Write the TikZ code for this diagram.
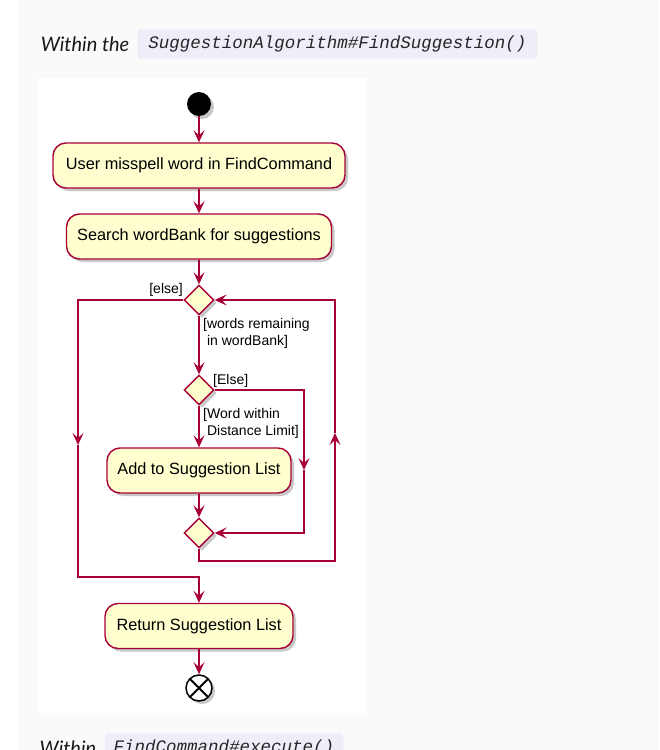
\documentclass[tikz,border=0pt]{standalone}
\usepackage{fontspec}
\setmainfont{Liberation Sans}
\newfontfamily\headfont{Lato}
\newfontfamily\codefont{Liberation Mono}
\usetikzlibrary{arrows.meta,positioning,shapes.geometric,shadows}
\definecolor{umlred}{RGB}{168,0,54}
\definecolor{umlfill}{RGB}{254,254,206}
\definecolor{pagegray}{RGB}{250,250,251}
\definecolor{codebg}{RGB}{238,238,248}
\definecolor{codeline}{RGB}{226,226,240}

\begin{document}
\begin{tikzpicture}[x=1pt,y=-1pt,
    umlshadow/.style={drop shadow={shadow xshift=3pt,shadow yshift=-3pt,opacity=0.3,fill=black!70}},
    act/.style={rectangle,rounded corners=13pt,draw=umlred,line width=1.4pt,fill=umlfill,
      minimum height=45pt,inner sep=0pt,font=\fontsize{16.3}{19}\selectfont,umlshadow},
    branch/.style={diamond,aspect=1,draw=umlred,line width=1.4pt,fill=umlfill,
      minimum size=30pt,inner sep=0pt,umlshadow},
    flow/.style={umlred,line width=1.3pt},
    tip/.style={-{Stealth[length=12pt,width=11pt,inset=5pt]}},
    guard/.style={font=\fontsize{14}{17}\selectfont,align=left,inner sep=0pt},
    codebox/.style={rounded corners=3pt,fill=codebg,draw=codeline,inner sep=0pt,
      font=\codefont\itshape\fontsize{17.5}{20}\selectfont,text=black!85},
    headtext/.style={font=\headfont\itshape\fontsize{20}{24}\selectfont,text=black!90}]
  \useasboundingbox (0,0) rectangle (659,750);
  \clip (0,0) rectangle (659,750);
  \fill[white] (0,0) rectangle (659,750);
  \fill[pagegray] (17,0) rectangle (659,750);
  \fill[white] (38,78) rectangle (367,713);

  \node[codebox,minimum width=399pt,minimum height=28pt] (codeA) at (337.5,44)
    {SuggestionAlgorithm\#FindSuggestion()};
  \node[headtext,left=5pt of codeA] (headA) {Within the};
  \node[codebox,minimum width=238pt,minimum height=28pt] (codeB) at (224,748)
    {FindCommand\#execute()};
  \node[headtext,left=5pt of codeB] (headB) {Within};

  \node[circle,fill=black,minimum size=24pt,inner sep=0pt,umlshadow] (start) at (199,104) {};
  \node[act,minimum width=292pt] (misspell) at (199,165.5) {User misspell word in FindCommand};
  \node[act,minimum width=265pt] (search) at (199,236.5) {Search wordBank for suggestions};
  \node[branch] (loop) at (199,300) {};
  \node[branch] (check) at (199,390) {};
  \node[act,minimum width=184pt] (add) at (199,470.5) {Add to Suggestion List};
  \node[branch] (merge) at (199,533) {};
  \node[act,minimum width=188pt] (result) at (199,626) {Return Suggestion List};
  \node[circle,draw=black,fill=white,line width=1.5pt,minimum size=26pt,inner sep=0pt,
    umlshadow] (stop) at (199,688) {};
  \draw[line width=2pt,shorten <=1.5pt,shorten >=1.5pt] (stop.45) -- (stop.225);
  \draw[line width=2pt,shorten <=1.5pt,shorten >=1.5pt] (stop.135) -- (stop.315);

  \node[guard,anchor=south east] (elseA) at (183,297) {[else]};
  \node[guard,anchor=north west] (wordsA) at (203,318) {[words remaining\\\ in wordBank]};
  \node[guard,anchor=south west] (elseB) at (213,388) {[Else]};
  \node[guard,anchor=north west] (withinA) at (203,408) {[Word within\\\ Distance Limit]};

  \coordinate (elseTop) at (78,300);
  \coordinate (elseMid) at (78,445);
  \coordinate (elseBot) at (78,577);
  \coordinate (joinTop) at (199,577);
  \coordinate (skipTop) at (304,390);
  \coordinate (skipMid) at (304,470);
  \coordinate (skipBot) at (304,533);
  \coordinate (backBot) at (199,561);
  \coordinate (backCorner) at (335,561);
  \coordinate (backMid) at (335,433);
  \coordinate (backTop) at (335,300);

  \draw[flow,tip] (start) -- (misspell);
  \draw[flow,tip] (misspell) -- (search);
  \draw[flow,tip] (search) -- (loop);
  \draw[flow,tip] (loop) -- (check);
  \draw[flow,tip] (check) -- (add);
  \draw[flow,tip] (add) -- (merge);
  \draw[flow,tip] (result) -- (stop);
  \draw[flow,tip] (loop.west) -- (elseTop) -- (elseMid);
  \draw[flow,tip] (elseMid) -- (elseBot) -- (joinTop) -- (result);
  \draw[flow,tip] (check.east) -- (skipTop) -- (skipMid);
  \draw[flow,tip] (skipMid) -- (skipBot) -- (merge.east);
  \draw[flow,tip] (merge.south) -- (backBot) -- (backCorner) -- (backMid);
  \draw[flow,tip] (backMid) -- (backTop) -- (loop.east);
\end{tikzpicture}
\end{document}
